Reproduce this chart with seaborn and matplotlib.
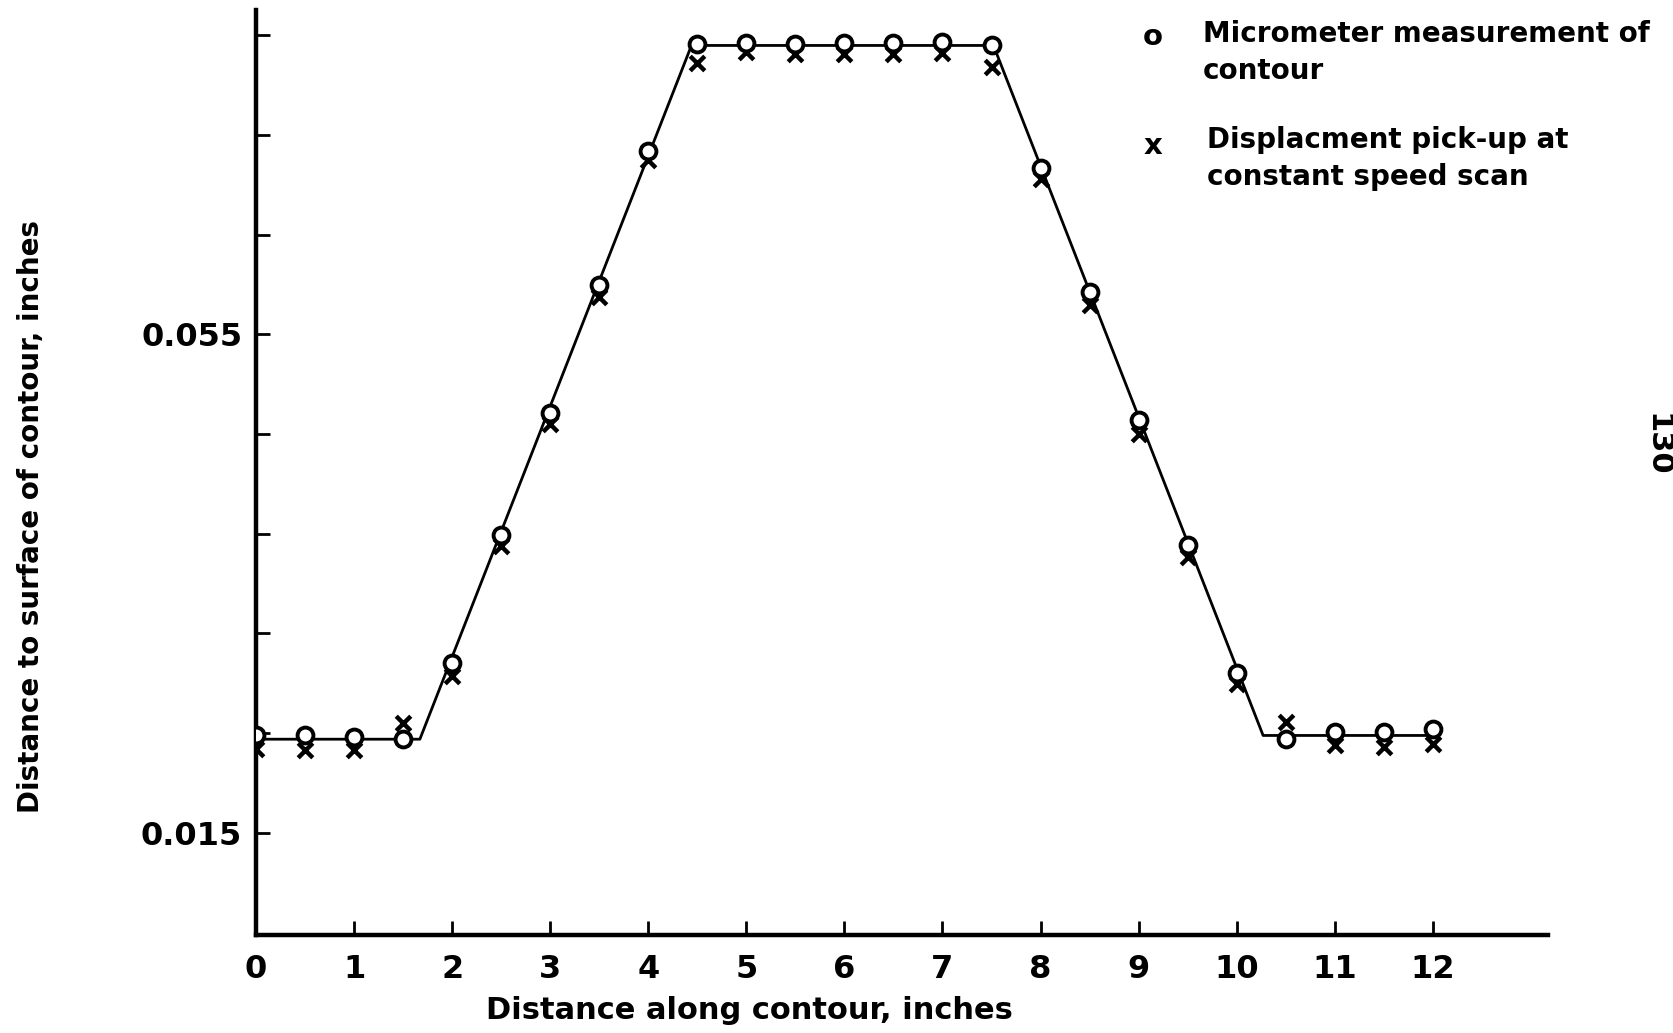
import pandas as pd
import seaborn as sns
import matplotlib.pyplot as plt

# data
distance = [0, 0.5, 1, 1.5, 2, 2.5, 3, 3.5, 4, 4.5, 5, 5.5, 6,
            6.5, 7, 7.5, 8, 8.5, 9, 9.5, 10, 10.5, 11, 11.5, 12]
micrometer = [0.0228, 0.0228, 0.0227, 0.0225, 0.0286, 0.0389, 0.0487, 0.0590,
              0.0697, 0.0783, 0.0784, 0.0783, 0.0784, 0.0784, 0.0785, 0.0782,
              0.0684, 0.0584, 0.0481, 0.0381, 0.0278, 0.0225, 0.0231, 0.0231, 0.0233]
pickup = [0.0217, 0.0216, 0.0216, 0.0238, 0.0276, 0.0380, 0.0478, 0.0580,
          0.0690, 0.0768, 0.0777, 0.0775, 0.0775, 0.0775, 0.0776, 0.0765,
          0.0675, 0.0574, 0.0470, 0.0371, 0.0269, 0.0239, 0.0220, 0.0219, 0.0221]

# nominal contour (straight-line profile)
contour_x = [0, 1.67, 4.44, 7.52, 10.27, 12]
contour_y = [0.0225, 0.0225, 0.0782, 0.0782, 0.0228, 0.0228]

x_ticks = [0, 1, 2, 3, 4, 5, 6, 7, 8, 9, 10, 11, 12]
y_ticks = [0.015, 0.023, 0.031, 0.039, 0.047, 0.055, 0.063, 0.071, 0.079]
y_labels = ["0.015", "", "", "", "", "0.055", "", "", ""]

df = pd.DataFrame({"distance": distance, "micrometer": micrometer, "pickup": pickup})
line_df = pd.DataFrame({"x": contour_x, "y": contour_y})

sns.set_style("ticks")
plt.rcParams["font.family"] = ["DejaVu Sans"]
plt.rcParams["font.weight"] = "bold"
for key in ["text.color", "axes.labelcolor", "xtick.color", "ytick.color", "axes.edgecolor"]:
    plt.rcParams[key] = "black"

fig = plt.figure(figsize=(16.74, 10.33), dpi=100)
ax = fig.add_axes([0.153, 0.095, 0.772, 0.895])

sns.lineplot(data=line_df, x="x", y="y", color="black", linewidth=2,
             sort=False, ax=ax, zorder=1)
sns.scatterplot(data=df, x="distance", y="pickup", marker="x", color="black",
                s=110, linewidth=3.2, ax=ax, zorder=2)
sns.scatterplot(data=df, x="distance", y="micrometer", marker="o", facecolor="white",
                edgecolor="black", s=130, linewidth=2.8, ax=ax, zorder=3)

ax.set_xlim(0, 13.18)
ax.set_ylim(0.00679, 0.08102)
ax.set_xticks(x_ticks)
ax.set_xticklabels([str(t) for t in x_ticks], fontsize=23, fontweight="bold")
ax.set_yticks(y_ticks)
ax.set_yticklabels(y_labels, fontsize=23, fontweight="bold")
ax.tick_params(axis="both", direction="in", length=10, width=2, pad=10)
ax.tick_params(axis="x", pad=14)

sns.despine(ax=ax)
for side in ["left", "bottom"]:
    ax.spines[side].set_linewidth(3.2)

ax.set_xlabel("Distance along contour, inches", fontsize=22, fontweight="bold")
ax.xaxis.set_label_coords(0.382, -0.066)
ax.set_ylabel("Distance to surface of contour, inches", fontsize=20, fontweight="bold")
ax.yaxis.set_label_coords(-0.163, 0.453)

# hand-lettered key in the top right corner
fig.text(1153 / 1674, 1 - 37 / 1033, "o", fontsize=21, fontweight="bold", ha="center", va="center")
fig.text(1203 / 1674, 1 - 20 / 1033, "Micrometer measurement of\ncontour",
         fontsize=20, fontweight="bold", ha="left", va="top", linespacing=1.42)
fig.text(1153 / 1674, 1 - 146 / 1033, "x", fontsize=21, fontweight="bold", ha="center", va="center")
fig.text(1207 / 1674, 1 - 126 / 1033, "Displacment pick-up at\nconstant speed scan",
         fontsize=20, fontweight="bold", ha="left", va="top", linespacing=1.42)

# page number at the scan edge
fig.text(1672 / 1674, 1 - 445 / 1033, "130", fontsize=22, fontweight="bold",
         rotation=-90, ha="right", va="center")

plt.savefig("out.png", dpi=100)
